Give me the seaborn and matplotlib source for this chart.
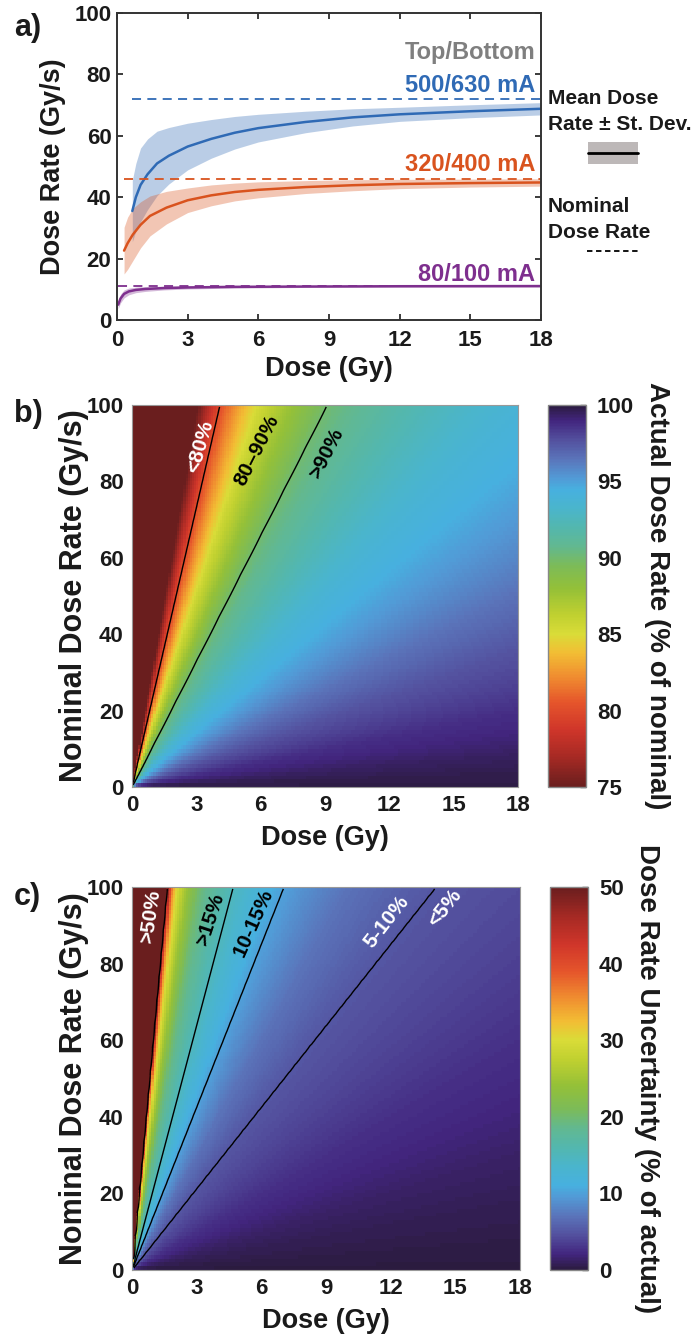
import numpy as np
import pandas as pd
import matplotlib
matplotlib.use('Agg')
import matplotlib.pyplot as plt
import seaborn as sns
from matplotlib.colors import LinearSegmentedColormap
from matplotlib.patches import Rectangle
from matplotlib.lines import Line2D

W, H = 697, 1342

# panel a: mean dose rate (Gy/s) and st. dev. vs delivered dose, per tube current
dose_hi = [0.65, 0.8, 1.0, 1.3, 1.7, 2.2, 3, 4, 5, 6, 8, 10, 12, 15, 18]
rate_hi = [35.5, 40, 44, 47.5, 51, 53.5, 56.5, 59, 61, 62.5, 64.5, 66, 67, 68, 68.8]
sd_hi = [10, 11, 12, 11.5, 10.5, 9.2, 7.6, 6.3, 5.3, 4.5, 3.5, 2.8, 2.3, 2.1, 2.0]

dose_mid = [0.3, 0.45, 0.67, 1.0, 1.4, 2.1, 3, 4, 5, 6, 8, 10, 12, 15, 18]
rate_mid = [22.6, 25, 27.8, 31, 33.9, 36.6, 39, 40.6, 41.7, 42.4, 43.3, 43.9, 44.3, 44.6, 44.8]
sd_mid = [7.6, 8.5, 8.5, 7.5, 6.5, 5.3, 4.0, 3.4, 2.9, 2.6, 2.1, 1.8, 1.5, 1.3, 1.2]

dose_lo = [0.05, 0.15, 0.3, 0.5, 0.8, 1.2, 2, 3, 5, 8, 12, 18]
rate_lo = [5, 7, 8.5, 9.3, 9.8, 10.1, 10.4, 10.6, 10.8, 10.9, 11, 11.05]
sd_lo = [1.3, 1.4, 1.3, 1.1, 0.9, 0.8, 0.6, 0.5, 0.4, 0.3, 0.3, 0.3]

nominal = [72, 45.8, 11.1]
tubes = ['500/630 mA', '320/400 mA', '80/100 mA']
tube_colors = ['#2f6ab5', '#d9531e', '#7e2f8e']

# panels b, c: values read along irradiation time t = dose / nominal rate (s)
time_b = [0.001, 0.01, 0.02, 0.03, 0.041, 0.06, 0.091, 0.13, 0.18, 0.24, 0.35, 0.5, 0.9, 2.0, 4.0, 200]
actual_pct = [9, 50, 66, 74.5, 80, 85.5, 90, 92, 93.8, 95, 96.5, 97.6, 98.7, 99.4, 99.7, 100]

time_c = [0.001, 0.0163, 0.0175, 0.019, 0.021, 0.025, 0.031, 0.047, 0.0705, 0.1, 0.141, 0.2, 0.3, 0.6, 1.0, 3.0, 200]
uncert_pct = [800, 50, 42, 35, 30, 25, 20, 15, 10, 7, 5, 4.0, 2.7, 1.3, 0.75, 0.25, 0]

dose_ticks = [0, 3, 6, 9, 12, 15, 18]
rate_ticks = [0, 20, 40, 60, 80, 100]

cmap_nodes = [(0.00, '#2b1b3f'), (0.04, '#42257e'), (0.09, '#53509e'), (0.14, '#5a74ba'),
              (0.19, '#529ad6'), (0.22, '#47b0df'), (0.27, '#4ab5cc'), (0.32, '#53b7ae'),
              (0.37, '#62b890'), (0.42, '#7cbb58'), (0.48, '#94c038'), (0.55, '#c0d030'),
              (0.60, '#d9dc38'), (0.65, '#f2bd34'), (0.71, '#f08e30'), (0.78, '#e5552b'),
              (0.85, '#d0362a'), (0.92, '#a82a24'), (1.00, '#6a1e1e')]
cmap = LinearSegmentedColormap.from_list('dose', cmap_nodes)

sns.set_style('ticks')
plt.rcParams['font.family'] = ['Liberation Sans', 'DejaVu Sans']
plt.rcParams['font.weight'] = 'bold'
plt.rcParams['axes.labelweight'] = 'bold'
TXT = '#1a1a1a'
plt.rcParams['text.color'] = TXT
plt.rcParams['axes.labelcolor'] = TXT
plt.rcParams['xtick.color'] = TXT
plt.rcParams['ytick.color'] = TXT

TICK = 16
LAB = 19.5


def box(l, t, r, b):
    return [l / W, 1 - b / H, (r - l) / W, (b - t) / H]


fig = plt.figure(figsize=(W / 100, H / 100), dpi=100)

# ---------------- panel a
ax = fig.add_axes(box(117, 13, 541, 320))
series = [(dose_hi, rate_hi, sd_hi), (dose_mid, rate_mid, sd_mid), (dose_lo, rate_lo, sd_lo)]
rows = []
for name, (d, r, s) in zip(tubes, series):
    rows.append(pd.DataFrame({'dose': d, 'rate': r, 'tube': name}))
df_a = pd.concat(rows, ignore_index=True)

for (d, r, s), c in zip(series, tube_colors):
    d, r, s = np.array(d), np.array(r), np.array(s)
    ax.fill_between(d, r - s, r + s, color=c, alpha=0.33, lw=0)

sns.lineplot(data=df_a, x='dose', y='rate', hue='tube', palette=tube_colors,
             legend=False, ax=ax, lw=1.8, estimator=None, sort=False)

for (d, r, s), y, c in zip(series, nominal, tube_colors):
    ax.hlines(y, d[0], 18, colors=c, linestyles=(0, (5, 3.5)), lw=1.3)

ax.set_xlim(0, 18)
ax.set_ylim(0, 100)
ax.set_xticks(dose_ticks)
ax.set_yticks(rate_ticks)
ax.tick_params(direction='in', length=4, width=1.2, top=True, right=True,
               labelsize=TICK, pad=4)
ax.tick_params(axis='x', pad=7)
for sp in ax.spines.values():
    sp.set_linewidth(1.4)
    sp.set_color('#333333')
ax.set_xlabel('Dose (Gy)', fontsize=LAB, labelpad=4)
ax.set_ylabel('Dose Rate (Gy/s)', fontsize=LAB, labelpad=6)

ax.text(17.75, 87, 'Top/Bottom', color='#7f7f7f', fontsize=17, ha='right', va='center')
for name, y, c in zip(tubes, [76.5, 50.8, 14.7], tube_colors):
    ax.text(17.75, y, name, color=c, fontsize=17, ha='right', va='center')

# legend on the right
LEG = 15
fig.text(548 / W, 1 - 99 / H, 'Mean Dose', fontsize=LEG, va='center')
fig.text(548 / W, 1 - 125 / H, 'Rate ± St. Dev.', fontsize=LEG, va='center')
fig.add_artist(Rectangle((588 / W, 1 - 164 / H), 50 / W, 22 / H, transform=fig.transFigure,
                         fc='#bdb8b8', ec='none'))
fig.add_artist(Line2D([588 / W, 638 / W], [1 - 153 / H] * 2, transform=fig.transFigure,
                      color='k', lw=2))
fig.text(548 / W, 1 - 207 / H, 'Nominal', fontsize=LEG, va='center')
fig.text(548 / W, 1 - 232 / H, 'Dose Rate', fontsize=LEG, va='center')
fig.add_artist(Line2D([587 / W, 640 / W], [1 - 251 / H] * 2, transform=fig.transFigure,
                      color='k', lw=1.3, ls=(0, (3, 2))))

# ---------------- panels b, c
dstep, rstep = 0.1, 1.0
dose_c = np.arange(dstep / 2, 18, dstep)
rate_c = np.arange(rstep / 2, 100, rstep)
T = dose_c[None, :] / rate_c[:, None]
Zb = np.interp(np.log(T), np.log(time_b), actual_pct)
Zc = np.interp(np.log(T), np.log(time_c), uncert_pct)


def heat(ax, cax, Z, cm, vmin, vmax, cticks, clabel, levels, notes):
    df = pd.DataFrame(Z, index=rate_c, columns=np.round(dose_c, 2))
    sns.heatmap(df, ax=ax, cmap=cm, vmin=vmin, vmax=vmax, cbar_ax=cax,
                cbar_kws={'ticks': cticks}, xticklabels=False, yticklabels=False,
                rasterized=True)
    ax.set_ylim(0, len(rate_c))
    ax.set_xlim(0, len(dose_c))
    ax.contour(dose_c / dstep, rate_c / rstep, Z, levels=levels, colors='k', linewidths=1)
    ax.set_xticks(np.array(dose_ticks) / dstep)
    ax.set_xticklabels([str(v) for v in dose_ticks])
    ax.set_yticks(np.array(rate_ticks) / rstep)
    ax.set_yticklabels([str(v) for v in rate_ticks], rotation=0)
    ax.tick_params(length=0, labelsize=TICK, pad=6)
    ax.set_xlabel('Dose (Gy)', fontsize=LAB, labelpad=6)
    ax.set_ylabel('Nominal Dose Rate (Gy/s)', fontsize=22, labelpad=-2)
    for sp in ax.spines.values():
        sp.set_visible(True)
        sp.set_color('#999999')
        sp.set_linewidth(0.8)
    for d, r, s, c, rot in notes:
        ax.text(d / dstep, r / rstep, s, color=c, fontsize=15, rotation=rot,
                ha='center', va='center', rotation_mode='anchor')
    cbar = ax.collections[0].colorbar
    cbar.outline.set_edgecolor('#888888')
    cbar.outline.set_linewidth(1.0)
    cax.tick_params(direction='in', length=4, width=1, labelsize=TICK, pad=8,
                    color='#333333')
    cax.set_ylabel(clabel, fontsize=20, rotation=270, labelpad=26)


axb = fig.add_axes(box(132, 405, 518, 787))
caxb = fig.add_axes(box(548, 405, 586, 787))
heat(axb, caxb, Zb, cmap.reversed(), 75, 100, [75, 80, 85, 90, 95, 100],
     'Actual Dose Rate (% of nominal)', [80, 90],
     [(3.17, 89, '<80%', 'white', 74), (5.83, 88.2, '80–90%', 'k', 63),
      (9.09, 87.4, '>90%', 'k', 63)])

axc = fig.add_axes(box(132, 887, 520, 1270))
caxc = fig.add_axes(box(550, 887, 588, 1270))
heat(axc, caxc, Zc, cmap, 0, 50, [0, 10, 20, 30, 40, 50],
     'Dose Rate Uncertainty (% of actual)', [5, 10, 15, 50],
     [(0.84, 92.2, '>50%', 'white', 82), (3.64, 91.4, '>15%', 'k', 72),
      (5.64, 90.6, '10-15%', 'k', 66), (11.8, 90.9, '5-10%', 'white', 52),
      (14.5, 94.5, '<5%', 'white', 52)])

for s, y in [('a)', 28), ('b)', 414), ('c)', 897)]:
    fig.text(14 / W, 1 - y / H, s, fontsize=22, va='center')

fig.savefig('out.png', dpi=100)
